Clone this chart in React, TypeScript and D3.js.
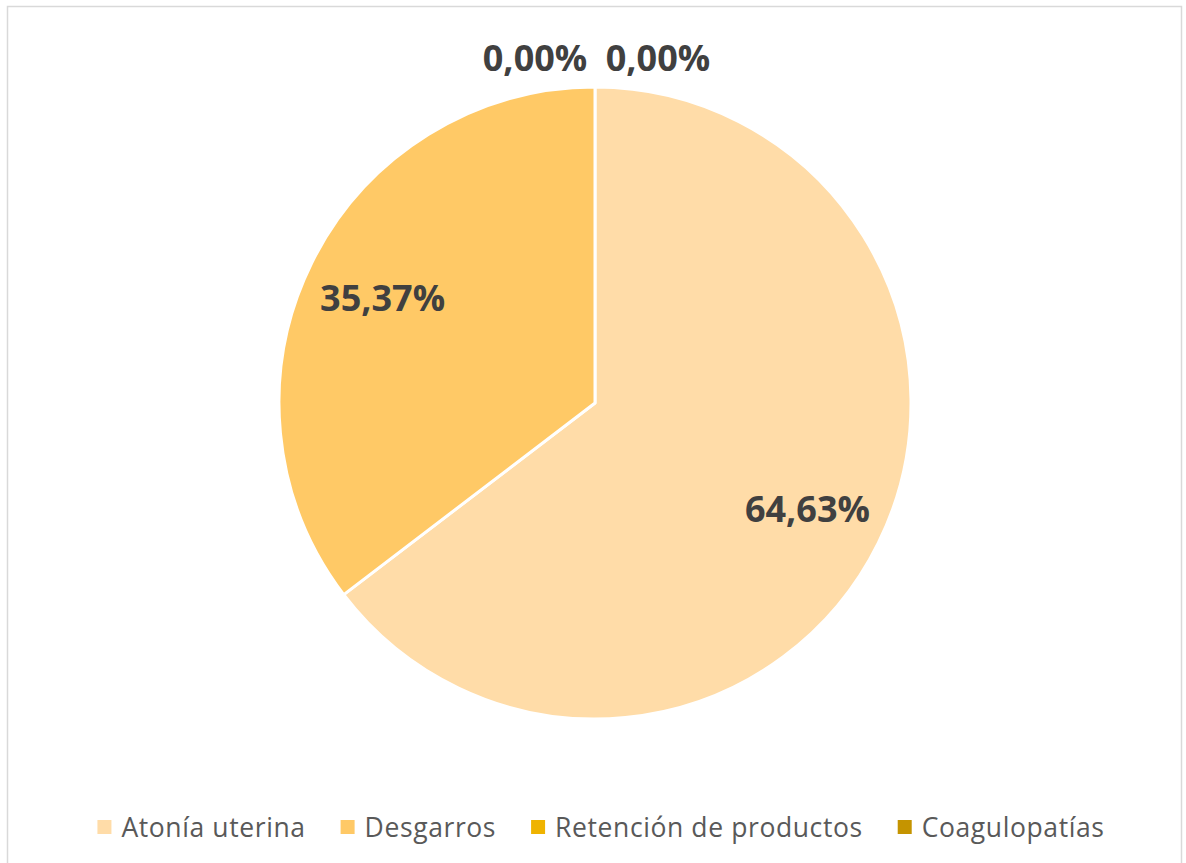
import React, { useEffect, useRef } from 'react';
import * as d3 from 'd3';

const categories = ['Atonía uterina', 'Desgarros', 'Retención de productos', 'Coagulopatías'];
const values = [64.63, 35.37, 0, 0];
const colors = ['#FFDCA8', '#FFC966', '#EFB300', '#C59400'];

const fmt = (v: number) => v.toFixed(2).replace('.', ',') + '%';

const App = () => {
  const ref = useRef<SVGSVGElement>(null);

  useEffect(() => {
    const W = 1186;
    const H = 863;
    const cx = 595;
    const cy = 403;
    const r = 316;

    const svg = d3.select(ref.current);
    svg.selectAll('*').remove();
    svg.attr('width', W).attr('height', H);

    // chart frame
    svg.append('rect')
      .attr('x', 7.5).attr('y', 6.5)
      .attr('width', 1174).attr('height', 880)
      .attr('fill', '#fff')
      .attr('stroke', '#d9d9d9')
      .attr('stroke-width', 1.5);

    const data = categories.map((c, i) => ({ name: c, value: values[i], color: colors[i] }));

    const pie = d3.pie<any>().sort(null).value(d => d.value);
    const arcs = pie(data);
    const arc = d3.arc<any>().innerRadius(0).outerRadius(r);

    const g = svg.append('g').attr('transform', `translate(${cx},${cy})`);

    g.selectAll('path')
      .data(arcs.filter(a => a.data.value > 0))
      .enter().append('path')
      .attr('d', arc)
      .attr('fill', d => d.data.color)
      .attr('stroke', '#fff')
      .attr('stroke-width', 3)
      .attr('stroke-linejoin', 'round');

    // labels
    const labelArc = d3.arc<any>().innerRadius(r * 0.75).outerRadius(r * 0.75);
    let zeroIdx = 0;
    arcs.forEach(a => {
      let x: number, y: number;
      if (a.data.value > 0) {
        [x, y] = labelArc.centroid(a);
      } else {
        const ang = a.startAngle;
        x = Math.sin(ang) * (r + 30) + (zeroIdx === 0 ? -60 : 63);
        y = -Math.cos(ang) * (r + 30);
        zeroIdx++;
      }
      g.append('text')
        .attr('x', x).attr('y', y)
        .attr('text-anchor', 'middle')
        .attr('dominant-baseline', 'central')
        .attr('font-family', '"Open Sans", sans-serif')
        .attr('font-weight', 700)
        .attr('font-size', 36)
        .attr('fill', '#404040')
        .text(fmt(a.data.value));
    });

    // legend
    const legend = svg.append('g');
    const items = legend.selectAll('g.item')
      .data(data)
      .enter().append('g').attr('class', 'item');
    items.append('rect')
      .attr('width', 14).attr('height', 14)
      .attr('y', 820)
      .attr('fill', d => d.color);
    items.append('text')
      .attr('y', 837)
      .attr('x', 24)
      .attr('font-family', '"Open Sans", sans-serif')
      .attr('font-size', 26.5)
      .attr('letter-spacing', 0.6)
      .attr('fill', '#595959')
      .text(d => d.name);

    const widths: number[] = [];
    items.select('text').each(function () {
      widths.push((this as SVGTextElement).getComputedTextLength());
    });
    const gap = 35;
    const total = d3.sum(widths.map(w => w + 24)) + gap * (widths.length - 1);
    let xpos = 601 - total / 2;
    items.each(function (_, i) {
      d3.select(this).attr('transform', `translate(${xpos},0)`);
      xpos += widths[i] + 24 + gap;
    });
  }, []);

  return <svg ref={ref} style={{ position: 'absolute', left: 0, top: 0 }}></svg>;
};

export default App;
